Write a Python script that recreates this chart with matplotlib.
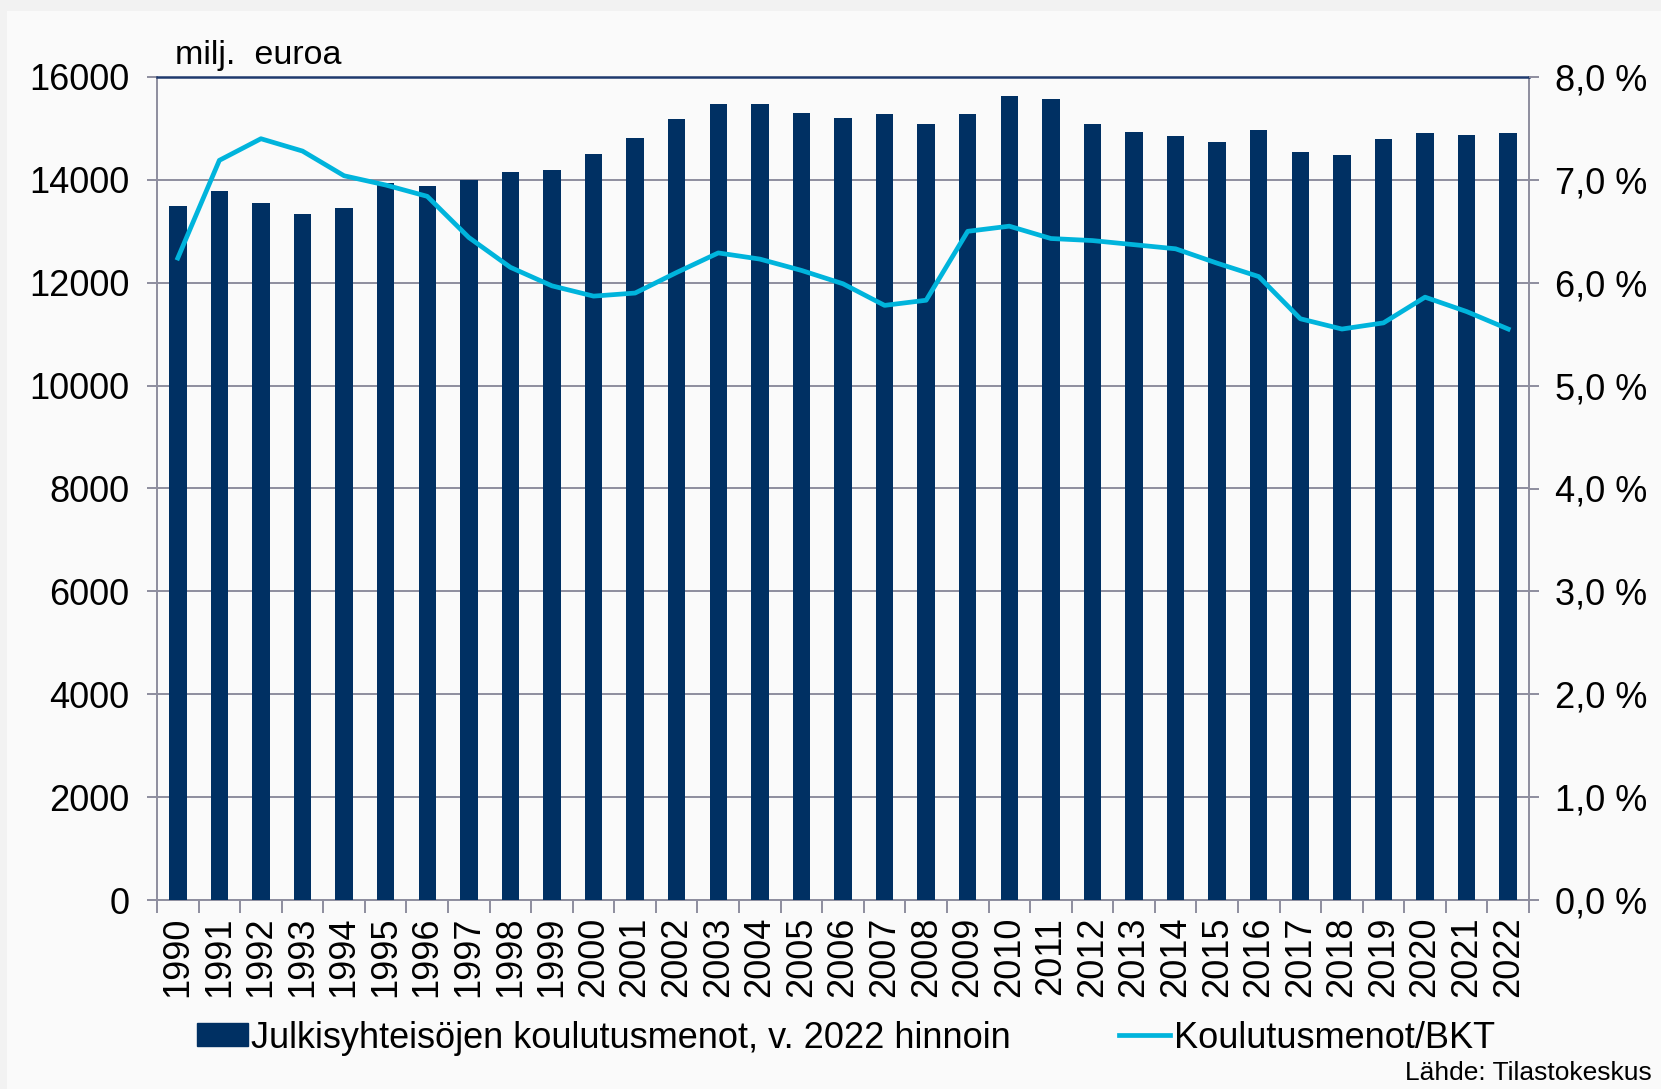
import matplotlib.pyplot as plt
import numpy as np
from matplotlib.patches import Rectangle
from matplotlib.lines import Line2D
from matplotlib.ticker import FuncFormatter, FixedLocator

plt.rcParams["font.family"] = ["Liberation Sans", "DejaVu Sans"]

years = list(range(1990, 2023))
# Julkisyhteisöjen koulutusmenot, milj. euroa (v. 2022 hinnoin)
menot = [13490, 13780, 13550, 13340, 13450, 13940, 13880, 14000, 14150, 14190,
         14500, 14810, 15180, 15470, 15470, 15300, 15200, 15280, 15090, 15280,
         15630, 15570, 15090, 14930, 14850, 14740, 14970, 14540, 14480, 14790,
         14910, 14870, 14910]
# Koulutusmenot/BKT, %
bkt_osuus = [6.24, 7.19, 7.40, 7.28, 7.04, 6.95, 6.84, 6.44, 6.15, 5.97,
             5.87, 5.90, 6.10, 6.29, 6.23, 6.12, 5.99, 5.78, 5.83, 6.50,
             6.55, 6.43, 6.41, 6.37, 6.33, 6.19, 6.06, 5.65, 5.55, 5.61,
             5.86, 5.72, 5.55]

BAR = "#003063"
LINE = "#00b4dc"
GRID = "#8e8e9e"

fig = plt.figure(figsize=(16.61, 10.89), dpi=100, facecolor="#f2f2f2")
fig.patches.append(Rectangle((7 / 1661, 0), 1, 1 - 11 / 1089, transform=fig.transFigure,
                             facecolor="#fafafa", edgecolor="none", zorder=-10))

ax = fig.add_axes([157 / 1661, 1 - 900 / 1089, (1529 - 157) / 1661, (900 - 77) / 1089])
ax.set_facecolor("none")
x = np.arange(len(years))
ax.bar(x, menot, width=0.42, color=BAR, zorder=3)
ax.set_xlim(-0.5, len(years) - 0.5)
ax.set_ylim(0, 16000)
ax.set_yticks(range(0, 16001, 2000))
ax.yaxis.grid(True, color=GRID, lw=1.4, zorder=0)
ax.set_axisbelow(True)
for s in ["left", "right", "bottom"]:
    ax.spines[s].set_color(GRID)
    ax.spines[s].set_linewidth(1.4)
ax.spines["top"].set_color("#1f3a6e")
ax.spines["top"].set_linewidth(1.8)
ax.tick_params(axis="y", length=7, width=1.4, color=GRID, labelsize=26, pad=13)

ax.set_xticks(x)
ax.set_xticklabels([str(y) for y in years], rotation=90, fontsize=26)
ax.tick_params(axis="x", which="major", length=0, pad=12)
ax.xaxis.set_minor_locator(FixedLocator(np.arange(-0.5, len(years), 1)))
ax.tick_params(axis="x", which="minor", length=9, width=1.4, color=GRID)

ax2 = ax.twinx()
ax2.plot(x, bkt_osuus, color=LINE, lw=3.4, zorder=4)
ax2.set_ylim(0, 8)
ax2.set_yticks(range(0, 9))
ax2.yaxis.set_major_formatter(FuncFormatter(lambda v, p: f"{v:.1f} %".replace(".", ",")))
ax2.tick_params(axis="y", length=7, width=1.4, color=GRID, labelsize=26, pad=12)
for s in ax2.spines.values():
    s.set_visible(False)

fig.text(175 / 1661, 1 - 64 / 1089, "milj.  euroa", fontsize=24.5, ha="left", va="baseline")
fig.text(1652 / 1661, 1 - 1080 / 1089, "Lähde: Tilastokeskus", fontsize=19, ha="right", va="baseline")

handles = [Rectangle((0, 0), 1, 1, color=BAR), Line2D([], [], color=LINE, lw=3.4)]
labels = ["Julkisyhteisöjen koulutusmenot, v. 2022 hinnoin", "Koulutusmenot/BKT"]
fig.legend(handles, labels, loc="center", bbox_to_anchor=(846 / 1661, 1 - 1038 / 1089),
           ncol=2, frameon=False, fontsize=26, handlelength=1.4, handleheight=0.6,
           handletextpad=0.1, columnspacing=3.0)

fig.savefig("out.png", dpi=100, facecolor=fig.get_facecolor())
